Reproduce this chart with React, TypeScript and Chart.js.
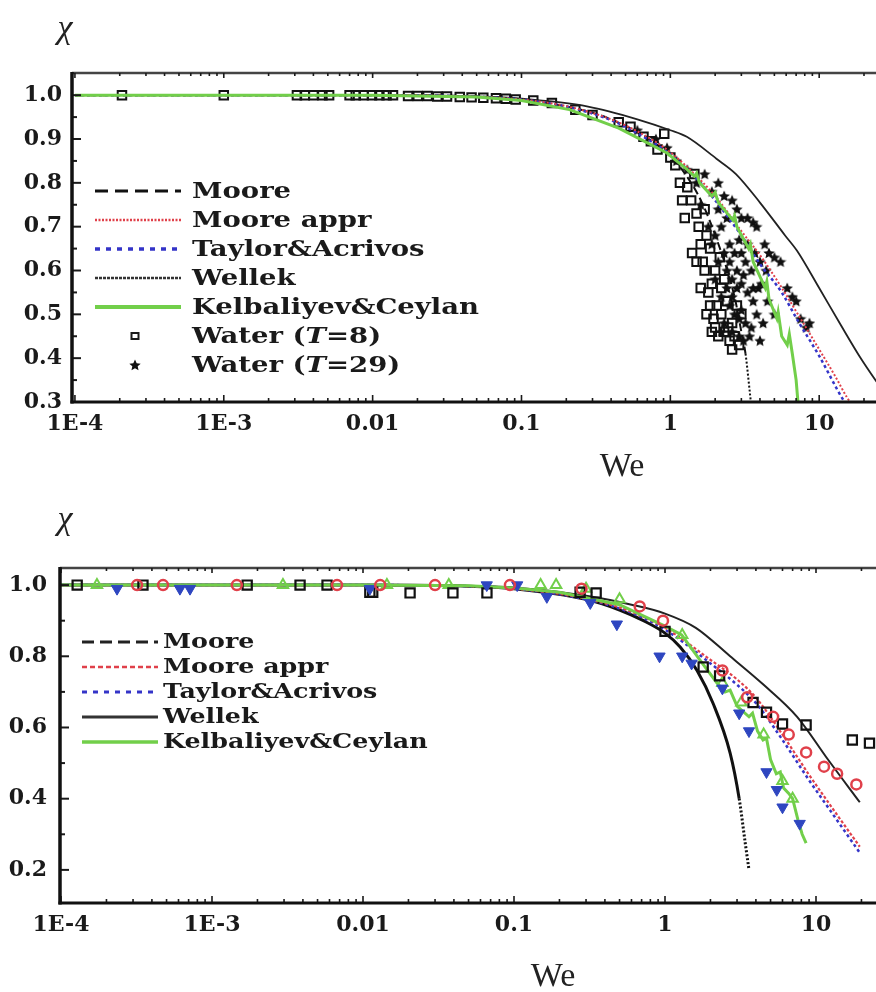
import React, { useEffect, useRef } from "react";
import { Chart, registerables } from "chart.js";

Chart.register(...registerables);

type Pt = [number, number];

// ---------- shared axis definitions ----------
const weDecades = [1e-4, 1e-3, 1e-2, 1e-1, 1, 10, 100];
const weDecadeLabels = ["1E-4", "1E-3", "0.01", "0.1", "1", "10", "100"];

const chiTicksTop = [0.3, 0.4, 0.5, 0.6, 0.7, 0.8, 0.9, 1.0];
const chiMinorTop = [0.35, 0.45, 0.55, 0.65, 0.75, 0.85, 0.95];
const chiTicksBottom = [0.2, 0.4, 0.6, 0.8, 1.0];
const chiMinorBottom = [0.3, 0.5, 0.7, 0.9];

// ---------- upper panel: theory curves ----------
const topMoore: Pt[] = [
  [1e-4, 1], [0.01, 1], [0.05, 0.997], [0.1, 0.99], [0.3, 0.96], [0.5, 0.93], [0.72, 0.9],
  [1.0, 0.86], [1.26, 0.82], [1.63, 0.755], [2.08, 0.665], [2.7, 0.54], [3.0, 0.46],
  [3.2, 0.41], [3.4, 0.33], [3.5, 0.29],
];
const topMooreAppr: Pt[] = [
  [1e-4, 1], [0.01, 1], [0.05, 0.996], [0.1, 0.99], [0.2, 0.975], [0.4, 0.945], [0.7, 0.905],
  [1.0, 0.87], [1.5, 0.815], [2.0, 0.77], [3.0, 0.69], [4.1, 0.63], [5.5, 0.565], [7.2, 0.5],
  [10, 0.42], [13, 0.355], [15.4, 0.31], [20, 0.255],
];
const topTaylor: Pt[] = [
  [1e-4, 1], [0.01, 1], [0.05, 0.996], [0.1, 0.99], [0.2, 0.974], [0.4, 0.943], [0.7, 0.9],
  [1.0, 0.865], [1.5, 0.81], [2.0, 0.76], [3.0, 0.68], [4.0, 0.615], [5.6, 0.55], [7.2, 0.485],
  [10, 0.405], [14.5, 0.305], [20, 0.24],
];
const topWellek: Pt[] = [
  [1e-4, 1], [0.01, 1], [0.05, 0.997], [0.1, 0.992], [0.28, 0.974], [0.6, 0.945], [1.0, 0.92],
  [1.29, 0.905], [2.04, 0.855], [2.76, 0.82], [4.0, 0.755], [5.9, 0.68], [7.1, 0.645],
  [10, 0.56], [14, 0.475], [18.6, 0.405], [25, 0.34], [35, 0.27],
];
const topKelbaliyev: Pt[] = [
  [1e-4, 1], [0.01, 1], [0.05, 0.996], [0.1, 0.988], [0.21, 0.967], [0.45, 0.925], [0.95, 0.868],
  [1.3, 0.83], [1.45, 0.815], [1.5, 0.822], [1.57, 0.8], [1.9, 0.77], [2.0, 0.778], [2.1, 0.755],
  [2.63, 0.715], [2.7, 0.725], [2.8, 0.7], [3.36, 0.65], [3.45, 0.66], [3.6, 0.62], [4.34, 0.56],
  [4.45, 0.575], [4.6, 0.535], [5.2, 0.49], [5.3, 0.505], [5.6, 0.45], [6.1, 0.43], [6.3, 0.455],
  [6.6, 0.41], [7.0, 0.35], [7.2, 0.3], [7.4, 0.27],
];

// ---------- upper panel: water measurements ----------
const water8: Pt[] = [
  [2.07e-4, 1], [1.0e-3, 1], [3.1e-3, 1], [3.5e-3, 1], [4.0e-3, 1], [4.6e-3, 1], [5.1e-3, 1],
  [7.0e-3, 1], [7.7e-3, 1], [8.7e-3, 1], [9.9e-3, 1], [0.0111, 1], [0.0124, 1], [0.0137, 1],
  [0.0173, 0.998], [0.0201, 0.998], [0.0234, 0.998], [0.0272, 0.997], [0.0316, 0.997],
  [0.0385, 0.996], [0.0462, 0.995], [0.0554, 0.994], [0.0674, 0.993], [0.0785, 0.992],
  [0.0914, 0.99], [0.12, 0.988], [0.16, 0.982], [0.23, 0.967], [0.3, 0.955], [0.45, 0.938],
  [0.54, 0.928], [0.66, 0.905], [0.74, 0.895], [0.82, 0.876], [0.91, 0.912], [1.0, 0.858],
  [1.08, 0.84], [1.16, 0.8], [1.2, 0.76], [1.25, 0.72], [1.3, 0.79], [1.38, 0.76], [1.4, 0.64],
  [1.45, 0.82], [1.5, 0.73], [1.55, 0.7], [1.6, 0.66], [1.65, 0.62], [1.7, 0.6], [1.7, 0.74],
  [1.75, 0.68], [1.8, 0.55], [1.85, 0.52], [1.9, 0.57], [1.95, 0.49], [2.0, 0.47], [2.0, 0.6],
  [2.1, 0.45], [2.2, 0.5], [2.2, 0.56], [2.3, 0.46], [2.4, 0.53], [2.5, 0.44], [2.6, 0.48],
  [2.7, 0.45], [2.8, 0.52], [2.9, 0.43], [3.0, 0.5], [1.5, 0.62], [1.6, 0.56], [1.75, 0.5],
  [1.9, 0.46], [2.05, 0.52], [2.3, 0.58], [2.15, 0.63], [1.85, 0.65], [2.6, 0.42], [2.45, 0.47],
];
const water29: Pt[] = [
  [0.6, 0.92], [0.8, 0.9], [0.95, 0.88], [1.1, 0.85], [1.3, 0.83], [1.5, 0.8], [1.7, 0.82],
  [1.9, 0.78], [2.1, 0.8], [2.3, 0.77], [2.6, 0.76], [2.8, 0.74], [3.0, 0.72], [3.3, 0.72],
  [3.6, 0.71], [3.8, 0.7], [1.6, 0.75], [1.8, 0.7], [2.0, 0.68], [2.2, 0.7], [2.5, 0.66],
  [2.7, 0.64], [2.9, 0.67], [3.2, 0.62], [3.5, 0.6], [4.0, 0.62], [4.3, 0.66], [4.6, 0.64],
  [5.0, 0.63], [5.5, 0.62], [2.1, 0.62], [2.4, 0.6], [2.6, 0.58], [2.8, 0.56], [3.0, 0.57],
  [3.3, 0.55], [3.6, 0.53], [3.9, 0.56], [2.2, 0.54], [2.5, 0.52], [2.7, 0.5], [3.0, 0.51],
  [3.2, 0.48], [3.5, 0.47], [3.8, 0.5], [4.2, 0.48], [2.3, 0.48], [2.6, 0.46], [2.9, 0.45],
  [3.1, 0.44], [4.5, 0.53], [5.0, 0.5], [6.1, 0.56], [6.6, 0.54], [7.0, 0.53], [7.5, 0.49],
  [8.2, 0.47], [8.6, 0.48], [4.0, 0.44], [3.4, 0.45], [1.9, 0.66], [2.0, 0.58], [2.3, 0.64],
  [2.4, 0.56], [2.5, 0.62], [2.6, 0.54], [2.8, 0.6], [3.0, 0.64], [3.1, 0.59], [3.3, 0.66],
  [2.4, 0.72], [2.1, 0.74], [3.7, 0.64], [4.1, 0.57], [2.9, 0.49], [2.2, 0.46], [3.6, 0.56],
  [4.4, 0.6],
];

// ---------- lower panel: theory curves ----------
const botMoore: Pt[] = [
  [1e-4, 1], [0.01, 1], [0.05, 0.997], [0.1, 0.99], [0.3, 0.96], [0.5, 0.93], [0.72, 0.9],
  [1.0, 0.865], [1.26, 0.826], [1.63, 0.76], [2.08, 0.668], [2.7, 0.528], [3.1, 0.4],
  [3.4, 0.275], [3.6, 0.2],
];
const botMooreAppr: Pt[] = [
  [1e-4, 1], [0.01, 1], [0.05, 0.997], [0.1, 0.99], [0.3, 0.962], [0.6, 0.925], [1.0, 0.88],
  [2.0, 0.79], [3.0, 0.735], [4.07, 0.68], [6.0, 0.58], [8.9, 0.47], [13, 0.37], [19.5, 0.265],
];
const botTaylor: Pt[] = [
  [1e-4, 1], [0.01, 1], [0.05, 0.997], [0.1, 0.99], [0.3, 0.96], [0.6, 0.922], [1.0, 0.875],
  [2.0, 0.78], [3.0, 0.72], [4.07, 0.665], [6.0, 0.565], [8.9, 0.455], [13, 0.355], [19.5, 0.248],
];
const botWellek: Pt[] = [
  [1e-4, 1], [0.01, 1], [0.05, 0.997], [0.1, 0.993], [0.3, 0.97], [0.6, 0.945], [1.0, 0.92],
  [1.6, 0.88], [2.7, 0.8], [4.5, 0.72], [7.5, 0.63], [12, 0.51], [19.5, 0.39],
];
const botKelbaliyev: Pt[] = [
  [1e-4, 1], [0.01, 1], [0.05, 0.998], [0.1, 0.992], [0.2, 0.98], [0.5, 0.945], [1.0, 0.885],
  [1.29, 0.86], [1.7, 0.79], [2.21, 0.725], [2.5, 0.7], [2.7, 0.705], [3.0, 0.66], [3.6, 0.63],
  [3.8, 0.64], [4.1, 0.59], [4.46, 0.565], [4.7, 0.57], [5.0, 0.51], [5.46, 0.47], [5.8, 0.475],
  [6.1, 0.43], [6.6, 0.415], [7.0, 0.4], [7.6, 0.34], [8.1, 0.3], [8.6, 0.275],
];

// ---------- lower panel: measurements ----------
const botSquares: Pt[] = [
  [1.28e-4, 1], [3.49e-4, 1], [1.71e-3, 1], [3.83e-3, 1], [5.78e-3, 1], [0.0111, 0.98],
  [0.0116, 0.98], [0.0205, 0.978], [0.0394, 0.978], [0.0662, 0.978], [0.274, 0.98],
  [0.35, 0.978], [1.0, 0.87], [1.79, 0.77], [2.3, 0.745], [3.83, 0.67], [4.7, 0.643],
  [6.0, 0.61], [8.6, 0.607], [17.4, 0.565], [22.6, 0.556],
];
const botCircles: Pt[] = [
  [3.19e-4, 1], [4.74e-4, 1], [1.46e-3, 1], [6.73e-3, 1], [0.013, 1], [0.03, 1], [0.094, 1],
  [0.28, 0.99], [0.68, 0.94], [0.97, 0.9], [2.4, 0.76], [3.5, 0.685], [5.2, 0.63], [6.6, 0.58],
  [8.6, 0.53], [11.3, 0.49], [13.8, 0.47], [18.5, 0.44],
];
const botTriDown: Pt[] = [
  [2.35e-4, 0.99], [6.13e-4, 0.99], [7.15e-4, 0.99], [0.0111, 0.99], [0.066, 1], [0.105, 1],
  [0.165, 0.967], [0.32, 0.95], [0.48, 0.89], [0.92, 0.8], [1.3, 0.8], [1.5, 0.78], [2.4, 0.71],
  [3.1, 0.64], [3.6, 0.59], [4.7, 0.475], [5.5, 0.425], [6.0, 0.376], [7.8, 0.33],
];
const botTriUp: Pt[] = [
  [1.73e-4, 1], [2.95e-3, 1], [0.0144, 1], [0.037, 1], [0.15, 1], [0.19, 1], [0.3, 0.99],
  [0.5, 0.96], [1.3, 0.86], [2.4, 0.725], [3.2, 0.67], [4.5, 0.58], [6.0, 0.45], [7.0, 0.4],
];

// ---------- styling ----------
const SERIF = '"DejaVu Serif", "Liberation Serif", serif';
const INK = "#1a1a1a";
const RED = "#e0404a";
const BLUE = "#3434c8";
const GREEN = "#72cf4a";
const TRI_BLUE = "#2e46c0";

const toXY = (pts: Pt[]) => pts.map(([x, y]) => ({ x, y }));

function makeStar(size: number, color: string): HTMLCanvasElement {
  const c = document.createElement("canvas");
  c.width = size;
  c.height = size;
  const g = c.getContext("2d")!;
  const R = size / 2;
  const r = R * 0.47;
  g.beginPath();
  for (let i = 0; i < 10; i++) {
    const a = -Math.PI / 2 + (i * Math.PI) / 5;
    const rad = i % 2 === 0 ? R : r;
    g.lineTo(R + rad * Math.cos(a), R + 0.5 + rad * Math.sin(a));
  }
  g.closePath();
  g.fillStyle = color;
  g.fill();
  return c;
}

// Smooth theory line; below `tailBelow` the line switches to a dotted pattern
function curve(data: Pt[], color: string, width: number, dash: number[], order: number, smooth = true, tailBelow = -1) {
  return {
    data: toXY(data),
    showLine: true,
    borderColor: color,
    borderWidth: width,
    borderDash: dash,
    pointRadius: 0,
    fill: false,
    order,
    cubicInterpolationMode: smooth ? "monotone" : "default",
    tension: 0,
    segment: {
      borderDash: (ctx: any) => (ctx.p0.parsed.y < tailBelow ? [2, 2] : undefined),
    },
  };
}

function markers(data: Pt[], style: any, radius: number, stroke: string, fillColor: string, width: number, order: number, rotation = 0) {
  return {
    data: toXY(data),
    showLine: false,
    pointStyle: style,
    pointRadius: radius,
    pointRotation: rotation,
    pointBorderColor: stroke,
    pointBackgroundColor: fillColor,
    pointBorderWidth: width,
    order,
  };
}

type Panel = {
  h: number;
  left: number;
  top: number;
  bottom: number;
  padRight: number;
  xMin: number;
  yMin: number;
  yMax: number;
  yTicks: number[];
  yMinor: number[];
  yPad: number;
};

function decadeLabel(v: number): string {
  const e = Math.log10(v);
  const k = Math.round(e);
  if (Math.abs(e - k) > 1e-6) return "";
  const idx = weDecades.findIndex((d) => Math.abs(Math.log10(d) - k) < 1e-6);
  return idx >= 0 ? weDecadeLabels[idx] : "";
}

function framePlugin(p: Panel) {
  return {
    id: "frame",
    afterDraw(chart: any) {
      const { ctx, chartArea: a, scales } = chart;
      const xs = scales.x;
      const ys = scales.y;
      ctx.save();
      ctx.setLineDash([]);
      // top border
      ctx.strokeStyle = "#444";
      ctx.lineWidth = 2.5;
      ctx.beginPath();
      ctx.moveTo(a.left, a.top);
      ctx.lineTo(chart.width, a.top);
      ctx.stroke();
      // x ticks, bottom and top, pointing inward
      ctx.strokeStyle = INK;
      ctx.lineWidth = 1.6;
      for (let d = -4; d <= 2; d++) {
        for (let k = 1; k <= 9; k++) {
          const v = k * Math.pow(10, d);
          if (v < p.xMin || v > 100) continue;
          const px = xs.getPixelForValue(v);
          const len = k === 1 ? 7 : 4;
          ctx.beginPath();
          ctx.moveTo(px, a.bottom);
          ctx.lineTo(px, a.bottom - len);
          ctx.moveTo(px, a.top);
          ctx.lineTo(px, a.top + (k === 1 ? 5 : 3));
          ctx.stroke();
        }
      }
      // y ticks
      ctx.lineWidth = 2;
      for (const v of p.yTicks) {
        const py = ys.getPixelForValue(v);
        ctx.beginPath();
        ctx.moveTo(a.left, py);
        ctx.lineTo(a.left + 9, py);
        ctx.stroke();
      }
      for (const v of p.yMinor) {
        const py = ys.getPixelForValue(v);
        ctx.beginPath();
        ctx.moveTo(a.left, py);
        ctx.lineTo(a.left + 5, py);
        ctx.stroke();
      }
      // left and bottom axis lines
      ctx.strokeStyle = "#111";
      ctx.lineWidth = 3.5;
      ctx.beginPath();
      ctx.moveTo(a.left, a.top - 1);
      ctx.lineTo(a.left, a.bottom + 1.5);
      ctx.stroke();
      ctx.lineWidth = 3;
      ctx.beginPath();
      ctx.moveTo(a.left - 1.5, a.bottom);
      ctx.lineTo(chart.width, a.bottom);
      ctx.stroke();
      ctx.restore();
    },
  };
}

type LegendItem = {
  parts: [string, boolean][];
  line?: { color: string; width: number; dash: number[] };
  marker?: "square" | "star";
};

type LegendSpec = {
  x0: number;
  x1: number;
  mx: number;
  tx: number;
  y0: number;
  dy: number;
  size: number;
  stretch: number;
  items: LegendItem[];
};

function legendPlugin(spec: LegendSpec, star: HTMLCanvasElement | null) {
  return {
    id: "curveLegend",
    afterDraw(chart: any) {
      const ctx = chart.ctx as CanvasRenderingContext2D;
      ctx.save();
      spec.items.forEach((it, i) => {
        const y = spec.y0 + i * spec.dy;
        if (it.line) {
          ctx.beginPath();
          ctx.setLineDash(it.line.dash);
          ctx.strokeStyle = it.line.color;
          ctx.lineWidth = it.line.width;
          ctx.moveTo(spec.x0, y);
          ctx.lineTo(spec.x1, y);
          ctx.stroke();
          ctx.setLineDash([]);
        }
        if (it.marker === "square") {
          ctx.lineWidth = 2;
          ctx.strokeStyle = INK;
          ctx.strokeRect(spec.mx - 3.5, y - 3, 7, 6);
        }
        if (it.marker === "star" && star) {
          ctx.drawImage(star, spec.mx - star.width / 2, y - star.height / 2);
        }
        ctx.save();
        ctx.translate(spec.tx, y);
        ctx.scale(spec.stretch, 1);
        ctx.fillStyle = INK;
        ctx.textBaseline = "middle";
        let cx = 0;
        for (const [t, ital] of it.parts) {
          ctx.font = `${ital ? "italic " : ""}bold ${spec.size}px ${SERIF}`;
          ctx.fillText(t, cx, 1);
          cx += ctx.measureText(t).width;
        }
        ctx.restore();
      });
      ctx.restore();
    },
  };
}

function buildOptions(p: Panel) {
  const tickFont = { family: SERIF, size: 22, weight: "bold" as const };
  return {
    animation: false as const,
    responsive: false,
    maintainAspectRatio: false,
    events: [] as any[],
    layout: { padding: { left: 0, top: p.top, right: p.padRight, bottom: 0 } },
    plugins: { legend: { display: false }, tooltip: { enabled: false } },
    scales: {
      x: {
        type: "logarithmic" as const,
        min: p.xMin,
        max: 100,
        grid: { display: false, drawTicks: false },
        border: { display: false },
        afterBuildTicks: (s: any) => {
          s.ticks = weDecades.map((v) => ({ value: v }));
        },
        afterFit: (s: any) => {
          s.height = p.h - p.bottom;
        },
        ticks: {
          autoSkip: false,
          maxRotation: 0,
          minRotation: 0,
          padding: 9,
          color: INK,
          font: tickFont,
          callback: (v: any) => decadeLabel(Number(v)),
        },
      },
      y: {
        type: "linear" as const,
        min: p.yMin,
        max: p.yMax,
        grid: { display: false, drawTicks: false },
        border: { display: false },
        afterBuildTicks: (s: any) => {
          s.ticks = p.yTicks.map((v) => ({ value: v }));
        },
        afterFit: (s: any) => {
          s.width = p.left;
        },
        ticks: {
          autoSkip: false,
          padding: p.yPad,
          color: INK,
          font: tickFont,
          callback: (v: any) => Number(v).toFixed(1),
        },
      },
    },
  };
}

const topPanel: Panel = {
  h: 490,
  left: 72,
  top: 73,
  bottom: 402,
  padRight: 13,
  xMin: Math.pow(10, -4 - 3 / 152),
  yMin: 0.3,
  yMax: 1.0506,
  yTicks: chiTicksTop,
  yMinor: chiMinorTop,
  yPad: 10,
};

const bottomPanel: Panel = {
  h: 502,
  left: 60,
  top: 78,
  bottom: 413,
  padRight: 33,
  xMin: Math.pow(10, -4 - 1 / 151),
  yMin: 0.107,
  yMax: 1.048,
  yTicks: chiTicksBottom,
  yMinor: chiMinorBottom,
  yPad: 13,
};

function buildTop(canvas: HTMLCanvasElement) {
  const star = makeStar(12, "#111");
  const datasets = [
    curve(topKelbaliyev, GREEN, 3, [], 0, false),
    curve(topMooreAppr, RED, 2, [2, 2], 1),
    curve(topTaylor, BLUE, 2.5, [3, 3], 2),
    curve(topWellek, "#222", 1.8, [], 3),
    curve(topMoore, "#111", 2, [8, 4], 4, true, 0.45),
    markers(water8, "rect", 6, "#111", "rgba(0,0,0,0)", 2, 5),
    markers(water29, star, 6, "#111", "#111", 0, 6),
  ];
  const legend: LegendSpec = {
    x0: 95,
    x1: 181,
    mx: 135,
    tx: 192,
    y0: 191,
    dy: 29,
    size: 22,
    stretch: 1.25,
    items: [
      { parts: [["Moore", false]], line: { color: "#111", width: 3, dash: [13, 7] } },
      { parts: [["Moore appr", false]], line: { color: RED, width: 2.5, dash: [2, 1.5] } },
      { parts: [["Taylor&Acrivos", false]], line: { color: BLUE, width: 3.5, dash: [5, 6] } },
      { parts: [["Wellek", false]], line: { color: "#333", width: 2.5, dash: [3, 1] } },
      { parts: [["Kelbaliyev&Ceylan", false]], line: { color: GREEN, width: 4, dash: [] } },
      { parts: [["Water (", false], ["T", true], ["=8)", false]], marker: "square" },
      { parts: [["Water (", false], ["T", true], ["=29)", false]], marker: "star" },
    ],
  };
  return new Chart(canvas, {
    type: "scatter",
    data: { datasets: datasets as any },
    options: buildOptions(topPanel) as any,
    plugins: [framePlugin(topPanel), legendPlugin(legend, star)],
  });
}

function buildBottom(canvas: HTMLCanvasElement) {
  const datasets = [
    markers(botCircles, "circle", 5, RED, "rgba(0,0,0,0)", 2.5, 0),
    markers(botTriDown, "triangle", 6.5, TRI_BLUE, TRI_BLUE, 1, 1, 180),
    markers(botSquares, "rect", 6.5, "#111", "rgba(0,0,0,0)", 2.2, 2),
    markers(botTriUp, "triangle", 6, GREEN, "rgba(0,0,0,0)", 2, 3),
    curve(botKelbaliyev, GREEN, 3, [], 4, false),
    curve(botMooreAppr, RED, 2.2, [3, 2], 5),
    curve(botTaylor, BLUE, 2.5, [3, 3], 6),
    curve(botWellek, "#222", 2, [], 7),
    curve(botMoore, "#111", 3, [], 8, true, 0.42),
  ];
  const legend: LegendSpec = {
    x0: 82,
    x1: 158,
    mx: 120,
    tx: 163,
    y0: 152,
    dy: 25,
    size: 19.5,
    stretch: 1.3,
    items: [
      { parts: [["Moore", false]], line: { color: "#222", width: 3, dash: [12, 6] } },
      { parts: [["Moore appr", false]], line: { color: RED, width: 2.5, dash: [5, 3] } },
      { parts: [["Taylor&Acrivos", false]], line: { color: BLUE, width: 3, dash: [5, 6] } },
      { parts: [["Wellek", false]], line: { color: "#333", width: 3, dash: [] } },
      { parts: [["Kelbaliyev&Ceylan", false]], line: { color: GREEN, width: 3.5, dash: [] } },
    ],
  };
  return new Chart(canvas, {
    type: "scatter",
    data: { datasets: datasets as any },
    options: buildOptions(bottomPanel) as any,
    plugins: [framePlugin(bottomPanel), legendPlugin(legend, null)],
  });
}

const textBase: React.CSSProperties = {
  position: "absolute",
  transform: "translate(-50%, -50%)",
  fontFamily: '"Liberation Serif", "DejaVu Serif", serif',
  color: "#222",
  lineHeight: 1,
  whiteSpace: "nowrap",
};

export default function App() {
  const topRef = useRef<HTMLCanvasElement>(null);
  const botRef = useRef<HTMLCanvasElement>(null);

  useEffect(() => {
    const charts = [buildTop(topRef.current!), buildBottom(botRef.current!)];
    return () => charts.forEach((c) => c.destroy());
  }, []);

  return (
    <div
      style={{
        position: "fixed",
        left: 0,
        top: 0,
        width: 876,
        height: 992,
        overflow: "hidden",
        background: "#fff",
      }}
    >
      <canvas ref={topRef} width={1000} height={490} style={{ position: "absolute", left: 0, top: 0 }} />
      <canvas ref={botRef} width={1000} height={502} style={{ position: "absolute", left: 0, top: 490 }} />
      <div style={{ ...textBase, left: 65, top: 27, fontSize: 34, fontStyle: "italic" }}>χ</div>
      <div style={{ ...textBase, left: 622, top: 465, fontSize: 34 }}>We</div>
      <div style={{ ...textBase, left: 65, top: 518, fontSize: 34, fontStyle: "italic" }}>χ</div>
      <div style={{ ...textBase, left: 553, top: 975, fontSize: 34 }}>We</div>
    </div>
  );
}
